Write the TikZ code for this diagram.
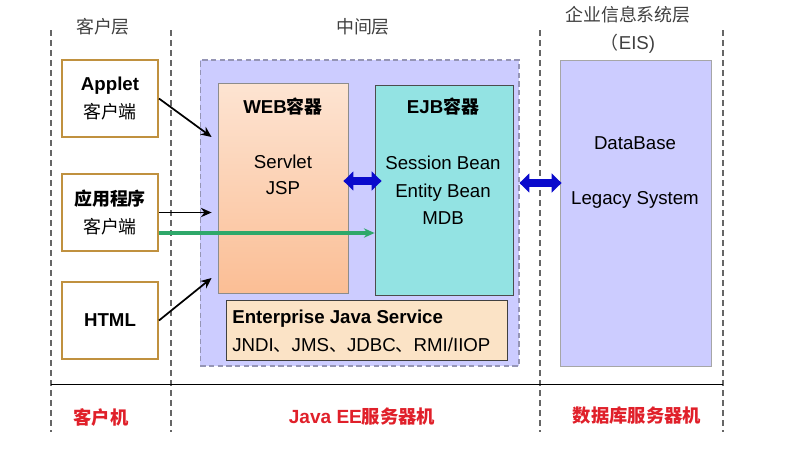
\documentclass[tikz,border=0pt]{standalone}
\usepackage{fontspec}
\setmainfont{Liberation Sans}
\newfontfamily\cjk[Scale=0.96]{Noto Sans CJK SC}
\usepackage{tikz}
\usetikzlibrary{arrows,arrows.meta,calc}

\definecolor{gold}{HTML}{C0913F}
\definecolor{lav}{HTML}{CCCCFF}
\definecolor{lavline}{HTML}{9595B5}
\definecolor{webtop}{HTML}{FDE4D2}
\definecolor{webbot}{HTML}{FBBE95}
\definecolor{ejbfill}{HTML}{93E3E3}
\definecolor{jesfill}{HTML}{FBE3C6}
\definecolor{tiergray}{HTML}{404040}
\definecolor{hostred}{HTML}{E0202A}
\definecolor{arrowblue}{HTML}{0A0ACC}
\definecolor{arrowgreen}{HTML}{2EA86A}
\newcommand{\zh}[1]{{\cjk #1}}

\begin{document}
\begin{tikzpicture}[x=0.75pt,y=-0.75pt,>={Stealth[length=8pt,width=7pt]},semithick,
    font=\fontsize{14}{20.5}\selectfont,
    sep/.style={draw=black!60,line width=1pt,dash pattern=on 4.5pt off 3pt},
    tier/.style={text=tiergray},
    host/.style={text=hostred,font=\fontsize{14.3}{20.5}\selectfont\bfseries},
    client/.style={draw=gold,line width=1.4pt,fill=white,minimum width=72pt,minimum height=58pt,align=center},
    midbox/.style={draw=lavline,fill=lav,line width=1pt,dash pattern=on 4pt off 2.5pt,minimum width=239pt,minimum height=229.5pt},
    webbox/.style={draw=black!45,top color=webtop,bottom color=webbot,minimum width=97.5pt,minimum height=157.5pt},
    ejbbox/.style={draw=black!70,fill=ejbfill,minimum width=103.5pt,minimum height=157.5pt},
    jesbox/.style={draw=black!75,fill=jesfill,minimum width=210.75pt,minimum height=45pt},
    eisbox/.style={draw=black!35,fill=lav,minimum width=113.25pt,minimum height=229.5pt},
    title/.style={font=\fontsize{14}{20.5}\selectfont\bfseries},
    dbl/.style={draw=arrowblue,line width=6pt,{Triangle[width=14pt,length=7.5pt]}-{Triangle[width=14pt,length=7.5pt]}}]

  \useasboundingbox (0,0) rectangle (796,475);

  \foreach \x in {51,171,540,723}
    \draw[sep] (\x,30) -- (\x,432);
  \draw (51,384) -- (723,384);

  \node[tier] (tc) at (103,27) {\zh{客户层}};
  \node[tier] (tm) at (363,27) {\zh{中间层}};
  \node[tier,align=center,font=\fontsize{14}{21}\selectfont] (te) at (628,30) {\zh{企业信息系统层}\\\zh{（}EIS)};

  \node[host] (hc) at (101,417) {\zh{客户机}};
  \node[host] (hm) at (362,417) {Java EE\zh{服务器机}};
  \node[host] (he) at (637,416) {\zh{数据库服务器机}};

  \node[client] (applet) at (110,98.5)  {\textbf{Applet}\\\zh{客户端}};
  \node[client] (app)    at (110,212.5) {\textbf{\zh{应用程序}}\\\zh{客户端}};
  \node[client] (html)   at (110,320.5) {\textbf{HTML}};

  \node[midbox] (mid) at (359.5,213) {};
  \node[webbox] (web) at (283,188) {};
  \node[title]  (webt) at (283,107) {WEB\zh{容器}};
  \node[align=center,font=\fontsize{14}{19.5}\selectfont] (webs) at (283,175) {Servlet\\JSP};

  \node[ejbbox] (ejb) at (444,190) {};
  \node[title]  (ejbt) at (443,107) {EJB\zh{容器}};
  \node[align=center] (ejbs) at (443,190.5) {Session Bean\\Entity Bean\\MDB};

  \node[jesbox] (jes) at (366.5,330) {};
  \node[anchor=west,align=left,font=\fontsize{14}{21}\selectfont] (jest) at (227.5,331)
    {\textbf{Enterprise Java Service}\\JNDI\zh{、}JMS\zh{、}JDBC\zh{、}RMI/IIOP};

  \node[eisbox] (eis) at (635.5,213) {};
  \node (db) at (635,143) {DataBase};
  \node (ls) at (635,200) {Legacy System};

  \path[->,line width=1.3pt]
    (applet.east) edge ($(web.west)+(-6,-51)$)
    (app.east)    edge ($(app.east -| web.west)+(-6,0)$)
    (html.east)   edge ($(web.west)+(-6,90)$);
  \draw[->,draw=arrowgreen,line width=2.5pt] ($(app.east)+(0,20.5)$) -- ($(app.east -| ejb.west)+(0,20.5)$);

  \draw[dbl] ($(web.east)+(-5,-7)$) -- ($(web.east -| ejb.west)+(7,-7)$);
  \draw[dbl] ($(ejb.east)+(6,-7)$) -- ($(ejb.east -| eis.west)+(2,-7)$);
\end{tikzpicture}
\end{document}
